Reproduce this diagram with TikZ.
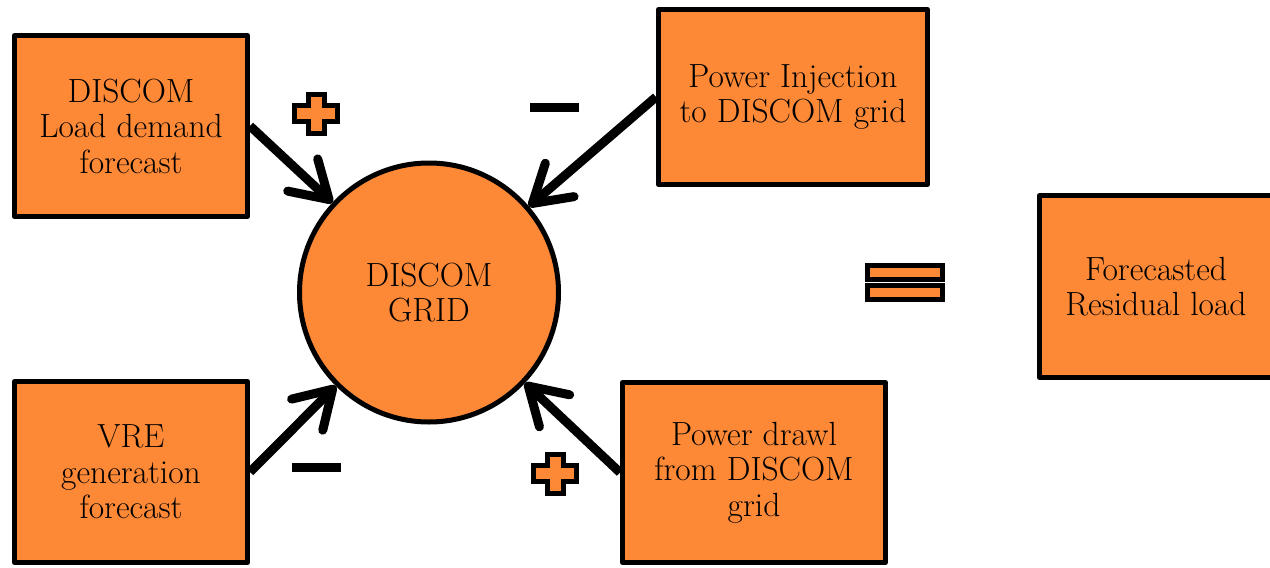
\documentclass[tikz,border=0pt]{standalone}
\usetikzlibrary{arrows.meta}
\definecolor{boxorange}{RGB}{253,137,55}
\begin{document}
\begin{tikzpicture}[x=1pt,y=-1pt,
  txt/.style={align=center, font=\fontsize{33.5}{35.5}\selectfont, inner sep=0pt},
  box/.style={txt, draw=black, line width=5pt, fill=boxorange, line join=round},
  grid/.style={txt, circle, draw=black, line width=5pt, fill=boxorange, minimum size=259pt},
  flow/.style={line width=9pt, draw=black, -{Straight Barb[length=36pt,width=44pt,round]}},
  minusbar/.style={fill=black, inner sep=0pt, minimum width=49pt, minimum height=9pt},
  eqbar/.style={draw=black, fill=boxorange, line width=5pt, inner sep=0pt, minimum width=75pt, minimum height=14pt},
  pics/plussign/.style={code={
    \draw[draw=black, fill=boxorange, line width=5pt]
      (-8,-19.5) -- (8,-19.5) -- (8,-8) -- (21.5,-8) -- (21.5,8) -- (8,8)
      -- (8,19.5) -- (-8,19.5) -- (-8,8) -- (-21.5,8) -- (-21.5,-8) -- (-8,-8) -- cycle;
  }},
]
\useasboundingbox (0,0) rectangle (1270,568);

\node[box, minimum width=233pt, minimum height=181pt] (load) at (131,126) {DISCOM\\Load demand\\forecast};
\node[box, minimum width=269pt, minimum height=175pt] (inj) at (793,97) {Power Injection\\to DISCOM grid};
\node[box, minimum width=233pt, minimum height=181pt] (vre) at (131,472) {VRE\\generation\\forecast};
\node[box, minimum width=263pt, minimum height=180pt] (drawl) at (754,472.5) {Power drawl\\from DISCOM\\grid};
\node[box, minimum width=233pt, minimum height=182pt] (res) at (1156,286.5) {Forecasted\\Residual load};
\node[grid] (grid) at (429,292.5) {DISCOM\\GRID};

\draw[flow] (load.east) -- (grid);
\draw[flow] (inj.west) -- (grid);
\draw[flow] (vre.east) -- (grid);
\draw[flow] (drawl.west) -- (grid);

\pic at (316,113.5) {plussign};
\pic at (555,473.5) {plussign};
\node[minusbar] (minus1) at (554,107) {};
\node[minusbar] (minus2) at (316,467.5) {};
\node[eqbar] (eq1) at (905,272.5) {};
\node[eqbar] (eq2) at (905,292.5) {};
\end{tikzpicture}
\end{document}
